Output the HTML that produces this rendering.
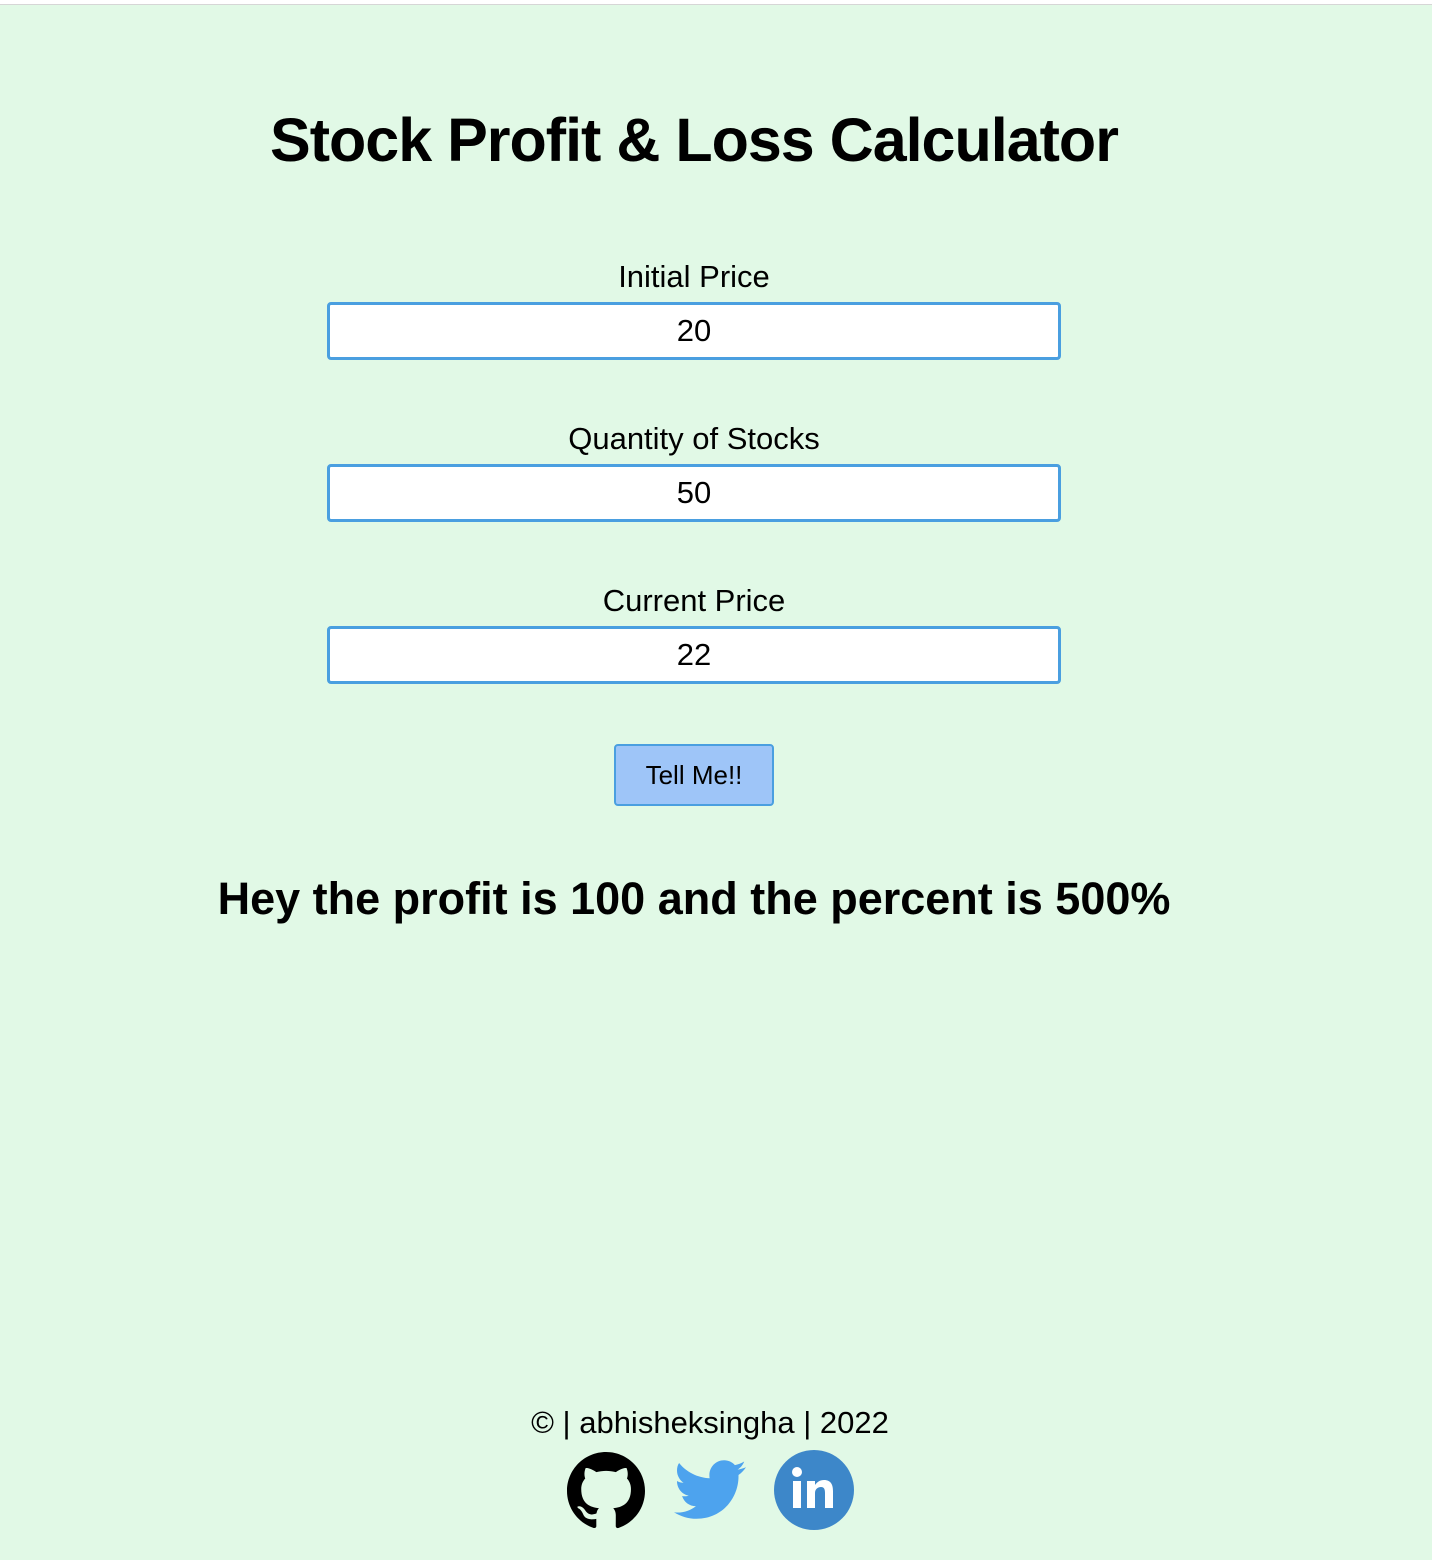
<!DOCTYPE html>
<html><head><meta charset="utf-8"><style>
html,body{margin:0;padding:0;}
body{width:1432px;height:1560px;background:#e1f9e6;position:relative;overflow:hidden;font-family:"Liberation Sans",sans-serif;color:#000;}
.topline{position:absolute;left:0;top:0;width:1432px;height:4px;background:#fff;border-bottom:1px solid #d6d6d6;}
.c{position:absolute;left:0;width:1388px;text-align:center;margin:0;}
h1{font-size:61px;font-weight:bold;top:105px;letter-spacing:-1px;}
.lbl{font-size:31px;}
.inp{position:absolute;left:327px;width:728px;height:52px;border:3px solid #4a9fe0;border-radius:4px;background:#fff;font-size:31px;text-align:center;line-height:52px;font-family:"Liberation Sans",sans-serif;padding:0;}
.btn{position:absolute;left:614px;top:744px;width:156px;height:58px;background:#9ec5f8;border:2px solid #4a9fe0;border-radius:4px;font-size:26px;line-height:58px;text-align:center;font-family:"Liberation Sans",sans-serif;padding:0;}
.res{font-size:45px;font-weight:bold;top:873px;}
.foot{font-size:31px;top:1405px;left:16px;}
.ic{position:absolute;}
</style></head><body>
<div class="topline"></div>
<h1 class="c">Stock Profit &amp; Loss Calculator</h1>
<div class="c lbl" style="top:259px">Initial Price</div>
<div class="inp" style="top:302px">20</div>
<div class="c lbl" style="top:421px">Quantity of Stocks</div>
<div class="inp" style="top:464px">50</div>
<div class="c lbl" style="top:583px">Current Price</div>
<div class="inp" style="top:626px">22</div>
<div class="btn">Tell Me!!</div>
<div class="c res">Hey the profit is 100 and the percent is 500%</div>
<div class="c foot">© | abhisheksingha | 2022</div>
<svg class="ic" style="left:567px;top:1452px" width="78" height="78" viewBox="0 0 16 16"><path fill="#000" d="M8 0C3.58 0 0 3.58 0 8c0 3.54 2.29 6.53 5.47 7.59.4.07.55-.17.55-.38 0-.19-.01-.82-.01-1.49-2.01.37-2.53-.49-2.69-.94-.09-.23-.48-.94-.82-1.13-.28-.15-.68-.52-.01-.53.63-.01 1.08.58 1.23.82.72 1.21 1.87.87 2.33.66.07-.52.28-.87.51-1.07-1.78-.2-3.64-.89-3.64-3.95 0-.87.31-1.59.82-2.15-.08-.2-.36-1.02.08-2.12 0 0 .67-.21 2.2.82.64-.18 1.32-.27 2-.27.68 0 1.36.09 2 .27 1.53-1.04 2.2-.82 2.2-.82.44 1.1.16 1.92.08 2.12.51.56.82 1.27.82 2.15 0 3.07-1.87 3.75-3.65 3.95.29.25.54.73.54 1.48 0 1.07-.01 1.93-.01 2.2 0 .21.15.46.55.38A8.013 8.013 0 0016 8c0-4.42-3.58-8-8-8z"/></svg>
<svg class="ic" style="left:674px;top:1460px" width="72" height="60" viewBox="0 0 24 20"><path fill="#4da3ee" d="M24 2.4c-.9.4-1.8.6-2.8.8 1-.6 1.8-1.6 2.2-2.7-1 .6-2 1-3.1 1.2C19.4.7 18.1.1 16.7.1c-2.7 0-4.9 2.2-4.9 4.9 0 .4 0 .8.1 1.1C7.8 5.9 4.1 4 1.7 1 1.2 1.7 1 2.6 1 3.5c0 1.7.9 3.2 2.2 4.1-.8 0-1.6-.2-2.2-.6v.1c0 2.4 1.7 4.4 3.9 4.8-.4.1-.8.2-1.3.2-.3 0-.6 0-.9-.1.6 2 2.4 3.4 4.6 3.4-1.7 1.3-3.8 2.1-6.1 2.1-.4 0-.8 0-1.2-.1 2.2 1.4 4.8 2.2 7.5 2.2 9.1 0 14-7.5 14-14v-.6c1-.7 1.8-1.6 2.5-2.6z"/></svg>
<svg class="ic" style="left:774px;top:1450px" width="80" height="80" viewBox="0 0 80 80"><circle cx="40" cy="40" r="40" fill="#3d87c9"/><rect x="19" y="31" width="8" height="27" fill="#fff"/><circle cx="23" cy="22" r="5" fill="#fff"/><path fill="#fff" d="M33 31h8v4c2-3 5-5 9-5 7 0 9 5 9 11v17h-8V43c0-4-1-6-4-6s-6 2-6 6v15h-8z"/></svg>
</body></html>
